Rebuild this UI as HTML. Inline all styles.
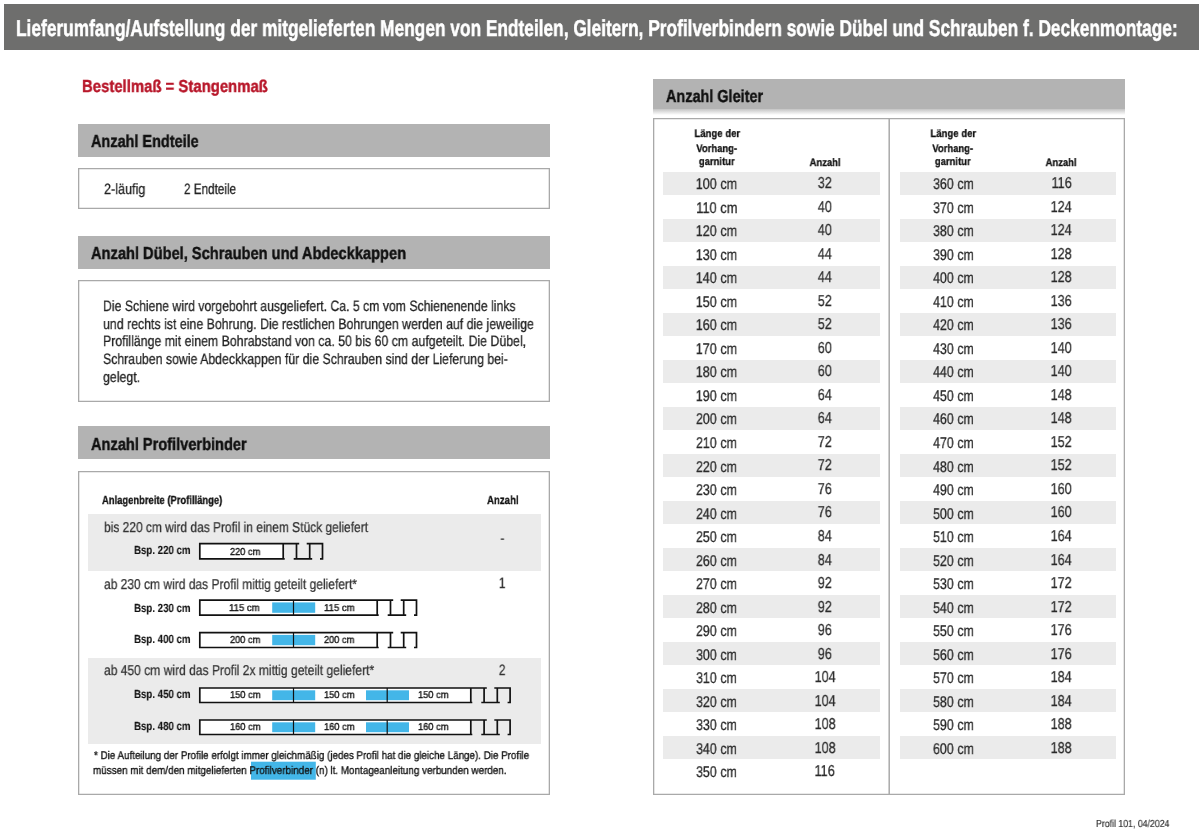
<!DOCTYPE html>
<html><head><meta charset="utf-8"><style>
html,body{margin:0;padding:0;background:#fff;width:1200px;height:833px;overflow:hidden}
body{position:relative;font-family:"Liberation Sans",sans-serif}
.r{position:absolute;box-sizing:border-box}
.s{position:absolute;left:0;top:0}
.t{position:absolute;white-space:nowrap;transform-origin:0 0;text-rendering:geometricPrecision;will-change:transform}
</style></head><body>
<div class=r style="left:4px;top:4px;width:1195px;height:46px;background:#6e6e6d;"></div><div class=r style="left:78px;top:124px;width:472px;height:32.5px;background:#b3b3b3;"></div><div class=r style="left:78px;top:167.5px;width:472px;height:41.0px;box-shadow:inset 0 0 0 1.3px #a9a9a9;"></div><div class=r style="left:78px;top:236px;width:472px;height:32.60000000000002px;background:#b3b3b3;"></div><div class=r style="left:78px;top:280px;width:472px;height:122px;box-shadow:inset 0 0 0 1.3px #a9a9a9;"></div><div class=r style="left:78px;top:426.3px;width:472px;height:33.0px;background:#b3b3b3;"></div><div class=r style="left:78px;top:470.6px;width:472px;height:324.4px;box-shadow:inset 0 0 0 1.3px #a9a9a9;"></div><div class=r style="left:88px;top:514.3px;width:452.70000000000005px;height:56.700000000000045px;background:#ebebeb;"></div><div class=r style="left:88px;top:658.2px;width:452.70000000000005px;height:85.39999999999998px;background:#ebebeb;"></div><div class=r style="left:653.3px;top:78.6px;width:471.70000000000005px;height:30.200000000000003px;background:#b3b3b3;"></div><div class=r style="left:653.3px;top:108.8px;width:471.70000000000005px;height:6.700000000000003px;background:linear-gradient(#c4c4c4,#ffffff)"></div><div class=r style="left:653.3px;top:118.3px;width:471.5px;height:676.5px;box-shadow:inset 0 0 0 1.3px #a9a9a9;"></div><div class=r style="left:662.5px;top:171.9px;width:217.5px;height:23.0px;background:#ebebeb;"></div><div class=r style="left:662.5px;top:218.94px;width:217.5px;height:23.0px;background:#ebebeb;"></div><div class=r style="left:662.5px;top:265.98px;width:217.5px;height:23.0px;background:#ebebeb;"></div><div class=r style="left:662.5px;top:313.02px;width:217.5px;height:23.0px;background:#ebebeb;"></div><div class=r style="left:662.5px;top:360.06px;width:217.5px;height:23.0px;background:#ebebeb;"></div><div class=r style="left:662.5px;top:407.1px;width:217.5px;height:23.0px;background:#ebebeb;"></div><div class=r style="left:662.5px;top:454.14px;width:217.5px;height:23.0px;background:#ebebeb;"></div><div class=r style="left:662.5px;top:501.17999999999995px;width:217.5px;height:23.0px;background:#ebebeb;"></div><div class=r style="left:662.5px;top:548.22px;width:217.5px;height:23.0px;background:#ebebeb;"></div><div class=r style="left:662.5px;top:595.26px;width:217.5px;height:23.0px;background:#ebebeb;"></div><div class=r style="left:662.5px;top:642.3px;width:217.5px;height:23.0px;background:#ebebeb;"></div><div class=r style="left:662.5px;top:689.3399999999999px;width:217.5px;height:23.0px;background:#ebebeb;"></div><div class=r style="left:662.5px;top:736.38px;width:217.5px;height:23.0px;background:#ebebeb;"></div><div class=r style="left:899.5px;top:171.9px;width:216.20000000000005px;height:23.0px;background:#ebebeb;"></div><div class=r style="left:899.5px;top:218.94px;width:216.20000000000005px;height:23.0px;background:#ebebeb;"></div><div class=r style="left:899.5px;top:265.98px;width:216.20000000000005px;height:23.0px;background:#ebebeb;"></div><div class=r style="left:899.5px;top:313.02px;width:216.20000000000005px;height:23.0px;background:#ebebeb;"></div><div class=r style="left:899.5px;top:360.06px;width:216.20000000000005px;height:23.0px;background:#ebebeb;"></div><div class=r style="left:899.5px;top:407.1px;width:216.20000000000005px;height:23.0px;background:#ebebeb;"></div><div class=r style="left:899.5px;top:454.14px;width:216.20000000000005px;height:23.0px;background:#ebebeb;"></div><div class=r style="left:899.5px;top:501.17999999999995px;width:216.20000000000005px;height:23.0px;background:#ebebeb;"></div><div class=r style="left:899.5px;top:548.22px;width:216.20000000000005px;height:23.0px;background:#ebebeb;"></div><div class=r style="left:899.5px;top:595.26px;width:216.20000000000005px;height:23.0px;background:#ebebeb;"></div><div class=r style="left:899.5px;top:642.3px;width:216.20000000000005px;height:23.0px;background:#ebebeb;"></div><div class=r style="left:899.5px;top:689.3399999999999px;width:216.20000000000005px;height:23.0px;background:#ebebeb;"></div><div class=r style="left:899.5px;top:736.38px;width:216.20000000000005px;height:23.0px;background:#ebebeb;"></div>
<svg class=s width='1200' height='833' viewBox='0 0 1200 833'><rect x='199.8' y='543.6' width='83.39999999999998' height='15.199999999999932' fill='#fff' stroke='none'/><path d='M299.2 543.6 H199.8 V558.8 H284.7 M283.2 543.6 V558.8' fill='none' stroke='#111' stroke-width='1.7'/><path d='M296.5 543.6 V558.8 M293.7 558.8 H312.2 M309.7 558.8 V543.6 M306.7 543.6 H322.5 V558.8 H320.0' fill='none' stroke='#111' stroke-width='1.7'/><rect x='199.8' y='600.1' width='177.39999999999998' height='15.0' fill='#fff' stroke='none'/><rect x='272.2' y='602.4' width='43.0' height='10.4' fill='#43b6e8'/><line x1='293.5' y1='600.1' x2='293.5' y2='615.1' stroke='#111' stroke-width='1.2'/><path d='M393.2 600.1 H199.8 V615.1 H378.7 M377.2 600.1 V615.1' fill='none' stroke='#111' stroke-width='1.7'/><path d='M390.5 600.1 V615.1 M387.7 615.1 H406.2 M403.7 615.1 V600.1 M400.7 600.1 H416.5 V615.1 H414.0' fill='none' stroke='#111' stroke-width='1.7'/><rect x='199.8' y='632.6' width='177.39999999999998' height='14.899999999999977' fill='#fff' stroke='none'/><rect x='272.2' y='634.9' width='43.0' height='10.299999999999978' fill='#43b6e8'/><line x1='293.5' y1='632.6' x2='293.5' y2='647.5' stroke='#111' stroke-width='1.2'/><path d='M393.2 632.6 H199.8 V647.5 H378.7 M377.2 632.6 V647.5' fill='none' stroke='#111' stroke-width='1.7'/><path d='M390.5 632.6 V647.5 M387.7 647.5 H406.2 M403.7 647.5 V632.6 M400.7 632.6 H416.5 V647.5 H414.0' fill='none' stroke='#111' stroke-width='1.7'/><rect x='199.8' y='688.0' width='271.0' height='14.5' fill='#fff' stroke='none'/><rect x='272.2' y='690.3' width='43.0' height='9.9' fill='#43b6e8'/><line x1='293.5' y1='688.0' x2='293.5' y2='702.5' stroke='#111' stroke-width='1.2'/><rect x='366' y='690.3' width='43' height='9.9' fill='#43b6e8'/><line x1='387.2' y1='688.0' x2='387.2' y2='702.5' stroke='#111' stroke-width='1.2'/><path d='M486.8 688.0 H199.8 V702.5 H472.3 M470.8 688.0 V702.5' fill='none' stroke='#111' stroke-width='1.7'/><path d='M484.1 688.0 V702.5 M481.3 702.5 H499.8 M497.3 702.5 V688.0 M494.3 688.0 H510.1 V702.5 H507.6' fill='none' stroke='#111' stroke-width='1.7'/><rect x='199.8' y='720.0' width='271.0' height='14.5' fill='#fff' stroke='none'/><rect x='272.2' y='722.3' width='43.0' height='9.9' fill='#43b6e8'/><line x1='293.5' y1='720.0' x2='293.5' y2='734.5' stroke='#111' stroke-width='1.2'/><rect x='366' y='722.3' width='43' height='9.9' fill='#43b6e8'/><line x1='387.2' y1='720.0' x2='387.2' y2='734.5' stroke='#111' stroke-width='1.2'/><path d='M486.8 720.0 H199.8 V734.5 H472.3 M470.8 720.0 V734.5' fill='none' stroke='#111' stroke-width='1.7'/><path d='M484.1 720.0 V734.5 M481.3 734.5 H499.8 M497.3 734.5 V720.0 M494.3 720.0 H510.1 V734.5 H507.6' fill='none' stroke='#111' stroke-width='1.7'/><rect x='251' y='761.7' width='64.8' height='18' fill='#43b6e8'/><line x1='889.2' y1='118.5' x2='889.2' y2='794' stroke='#a9a9a9' stroke-width='1.5'/></svg>
<div class=t style="left:16.34px;top:17px;font-size:23px;line-height:23px;font-weight:700;color:#ffffff;-webkit-text-stroke:0.55px #ffffff;transform:scaleX(0.7519)">Lieferumfang/Aufstellung der mitgelieferten Mengen von Endteilen, Gleitern, Profilverbindern sowie Dübel und Schrauben f. Deckenmontage:</div><div class=t style="left:81.60px;top:78px;font-size:17.4px;line-height:17.4px;font-weight:700;color:#b8172a;-webkit-text-stroke:0.435px #b8172a;transform:scaleX(0.8564)">Bestellmaß = Stangenmaß</div><div class=t style="left:90.84px;top:133px;font-size:17.4px;line-height:17.4px;font-weight:700;color:#111;-webkit-text-stroke:0.435px #111;transform:scaleX(0.8314)">Anzahl Endteile</div><div class=t style="left:103.96px;top:182px;font-size:15px;line-height:15px;color:#222;-webkit-text-stroke:0.27px #222;transform:scaleX(0.8424)">2-läufig</div><div class=t style="left:183.71px;top:182px;font-size:15px;line-height:15px;color:#222;-webkit-text-stroke:0.27px #222;transform:scaleX(0.7810)">2 Endteile</div><div class=t style="left:90.84px;top:245px;font-size:17.4px;line-height:17.4px;font-weight:700;color:#111;-webkit-text-stroke:0.435px #111;transform:scaleX(0.8418)">Anzahl Dübel, Schrauben und Abdeckkappen</div><div class=t style="left:102.80px;top:299px;font-size:15px;line-height:15px;color:#222;-webkit-text-stroke:0.27px #222;transform:scaleX(0.8165)">Die Schiene wird vorgebohrt ausgeliefert. Ca. 5 cm vom Schienenende links</div><div class=t style="left:103.00px;top:317px;font-size:15px;line-height:15px;color:#222;-webkit-text-stroke:0.27px #222;transform:scaleX(0.8228)">und rechts ist eine Bohrung. Die restlichen Bohrungen werden auf die jeweilige</div><div class=t style="left:102.79px;top:334px;font-size:15px;line-height:15px;color:#222;-webkit-text-stroke:0.27px #222;transform:scaleX(0.8225)">Profillänge mit einem Bohrabstand von ca. 50 bis 60 cm aufgeteilt. Die Dübel,</div><div class=t style="left:103.24px;top:352px;font-size:15px;line-height:15px;color:#222;-webkit-text-stroke:0.27px #222;transform:scaleX(0.8200)">Schrauben sowie Abdeckkappen für die Schrauben sind der Lieferung bei-</div><div class=t style="left:103.28px;top:370px;font-size:15px;line-height:15px;color:#222;-webkit-text-stroke:0.27px #222;transform:scaleX(0.8247)">gelegt.</div><div class=t style="left:90.84px;top:436px;font-size:17.4px;line-height:17.4px;font-weight:700;color:#111;-webkit-text-stroke:0.435px #111;transform:scaleX(0.8391)">Anzahl Profilverbinder</div><div class=t style="left:102.17px;top:495px;font-size:11.8px;line-height:11.8px;font-weight:700;color:#111;-webkit-text-stroke:0.295px #111;transform:scaleX(0.7979)">Anlagenbreite (Profillänge)</div><div class=t style="left:487.06px;top:495px;font-size:11.8px;line-height:11.8px;font-weight:700;color:#111;-webkit-text-stroke:0.295px #111;transform:scaleX(0.8177)">Anzahl</div><div class=t style="left:103.93px;top:521px;font-size:14.3px;line-height:14.3px;color:#333;-webkit-text-stroke:0.257px #333;transform:scaleX(0.8370)">bis 220 cm wird das Profil in einem Stück geliefert</div><div class=t style="left:104.19px;top:578px;font-size:14.3px;line-height:14.3px;color:#333;-webkit-text-stroke:0.257px #333;transform:scaleX(0.8400)">ab 230 cm wird das Profil mittig geteilt geliefert*</div><div class=t style="left:104.29px;top:664px;font-size:14.3px;line-height:14.3px;color:#333;-webkit-text-stroke:0.257px #333;transform:scaleX(0.8434)">ab 450 cm wird das Profil 2x mittig geteilt geliefert*</div><div class=t style="left:499.62px;top:532px;font-size:14.3px;line-height:14.3px;color:#333;-webkit-text-stroke:0.257px #333;transform-origin:50% 0;transform:scaleX(0.8000)">-</div><div class=t style="left:497.83px;top:576px;font-size:15px;line-height:15px;color:#333;-webkit-text-stroke:0.27px #333;transform-origin:50% 0;transform:scaleX(0.8000)">1</div><div class=t style="left:497.83px;top:663px;font-size:15px;line-height:15px;color:#333;-webkit-text-stroke:0.27px #333;transform-origin:50% 0;transform:scaleX(0.8000)">2</div><div class=t style="left:133.75px;top:545px;font-size:11.8px;line-height:11.8px;font-weight:700;color:#111;-webkit-text-stroke:0.1px #111;transform:scaleX(0.8212)">Bsp. 220 cm</div><div class=t style="left:133.75px;top:603px;font-size:11.8px;line-height:11.8px;font-weight:700;color:#111;-webkit-text-stroke:0.1px #111;transform:scaleX(0.8212)">Bsp. 230 cm</div><div class=t style="left:133.75px;top:634px;font-size:11.8px;line-height:11.8px;font-weight:700;color:#111;-webkit-text-stroke:0.1px #111;transform:scaleX(0.8212)">Bsp. 400 cm</div><div class=t style="left:133.75px;top:689px;font-size:11.8px;line-height:11.8px;font-weight:700;color:#111;-webkit-text-stroke:0.1px #111;transform:scaleX(0.8212)">Bsp. 450 cm</div><div class=t style="left:133.75px;top:721px;font-size:11.8px;line-height:11.8px;font-weight:700;color:#111;-webkit-text-stroke:0.1px #111;transform:scaleX(0.8212)">Bsp. 480 cm</div><div class=t style="left:230.14px;top:548px;font-size:10px;line-height:10px;color:#111;-webkit-text-stroke:0.35px #111;transform:scaleX(0.9230)">220 cm</div><div class=t style="left:229.47px;top:604px;font-size:10px;line-height:10px;color:#111;-webkit-text-stroke:0.35px #111;transform:scaleX(0.9530)">115 cm</div><div class=t style="left:323.77px;top:604px;font-size:10px;line-height:10px;color:#111;-webkit-text-stroke:0.35px #111;transform:scaleX(0.9530)">115 cm</div><div class=t style="left:229.74px;top:636px;font-size:10px;line-height:10px;color:#111;-webkit-text-stroke:0.35px #111;transform:scaleX(0.9230)">200 cm</div><div class=t style="left:324.04px;top:636px;font-size:10px;line-height:10px;color:#111;-webkit-text-stroke:0.35px #111;transform:scaleX(0.9230)">200 cm</div><div class=t style="left:230.49px;top:691px;font-size:10px;line-height:10px;color:#111;-webkit-text-stroke:0.35px #111;transform:scaleX(0.9306)">150 cm</div><div class=t style="left:323.59px;top:691px;font-size:10px;line-height:10px;color:#111;-webkit-text-stroke:0.35px #111;transform:scaleX(0.9306)">150 cm</div><div class=t style="left:418.09px;top:691px;font-size:10px;line-height:10px;color:#111;-webkit-text-stroke:0.35px #111;transform:scaleX(0.9306)">150 cm</div><div class=t style="left:230.49px;top:723px;font-size:10px;line-height:10px;color:#111;-webkit-text-stroke:0.35px #111;transform:scaleX(0.9306)">160 cm</div><div class=t style="left:323.59px;top:723px;font-size:10px;line-height:10px;color:#111;-webkit-text-stroke:0.35px #111;transform:scaleX(0.9306)">160 cm</div><div class=t style="left:418.09px;top:723px;font-size:10px;line-height:10px;color:#111;-webkit-text-stroke:0.35px #111;transform:scaleX(0.9306)">160 cm</div><div class=t style="left:93.84px;top:751px;font-size:11.2px;line-height:11.2px;color:#111;-webkit-text-stroke:0.32px #111;transform:scaleX(0.8777)">* Die Aufteilung der Profile erfolgt immer gleichmäßig (jedes Profil hat die gleiche Länge). Die Profile</div><div class=t style="left:93.34px;top:766px;font-size:11.2px;line-height:11.2px;color:#111;-webkit-text-stroke:0.32px #111;transform:scaleX(0.8820)">müssen mit dem/den mitgelieferten Profilverbinder (n) lt. Montageanleitung verbunden werden.</div><div class=t style="left:665.64px;top:88px;font-size:17.4px;line-height:17.4px;font-weight:700;color:#111;-webkit-text-stroke:0.435px #111;transform:scaleX(0.8302)">Anzahl Gleiter</div><div class=t style="left:690.71px;top:129px;font-size:11px;line-height:11px;font-weight:700;color:#111;-webkit-text-stroke:0.275px #111;transform-origin:50% 0;transform:scaleX(0.8689)">Länge der</div><div class=t style="left:693.27px;top:144px;font-size:11px;line-height:11px;font-weight:700;color:#111;-webkit-text-stroke:0.275px #111;transform-origin:50% 0;transform:scaleX(0.8604)">Vorhang-</div><div class=t style="left:696.22px;top:157px;font-size:11px;line-height:11px;font-weight:700;color:#111;-webkit-text-stroke:0.275px #111;transform-origin:50% 0;transform:scaleX(0.8621)">garnitur</div><div class=t style="left:806.97px;top:158px;font-size:11px;line-height:11px;font-weight:700;color:#111;-webkit-text-stroke:0.275px #111;transform-origin:50% 0;transform:scaleX(0.8569)">Anzahl</div><div class=t style="left:926.71px;top:129px;font-size:11px;line-height:11px;font-weight:700;color:#111;-webkit-text-stroke:0.275px #111;transform-origin:50% 0;transform:scaleX(0.8689)">Länge der</div><div class=t style="left:929.27px;top:144px;font-size:11px;line-height:11px;font-weight:700;color:#111;-webkit-text-stroke:0.275px #111;transform-origin:50% 0;transform:scaleX(0.8604)">Vorhang-</div><div class=t style="left:932.22px;top:157px;font-size:11px;line-height:11px;font-weight:700;color:#111;-webkit-text-stroke:0.275px #111;transform-origin:50% 0;transform:scaleX(0.8621)">garnitur</div><div class=t style="left:1043.47px;top:158px;font-size:11px;line-height:11px;font-weight:700;color:#111;-webkit-text-stroke:0.275px #111;transform-origin:50% 0;transform:scaleX(0.8569)">Anzahl</div><div class=t style="left:690.98px;top:177px;font-size:15.5px;line-height:15.5px;color:#2a2a2a;-webkit-text-stroke:0.279px #2a2a2a;transform-origin:50% 0;transform:scaleX(0.8121)">100 cm</div><div class=t style="left:816.21px;top:176px;font-size:15.8px;line-height:15.8px;color:#2a2a2a;-webkit-text-stroke:0.284px #2a2a2a;transform-origin:50% 0;transform:scaleX(0.8000)">32</div><div class=t style="left:691.56px;top:201px;font-size:15.5px;line-height:15.5px;color:#2a2a2a;-webkit-text-stroke:0.279px #2a2a2a;transform-origin:50% 0;transform:scaleX(0.8318)">110 cm</div><div class=t style="left:816.21px;top:200px;font-size:15.8px;line-height:15.8px;color:#2a2a2a;-webkit-text-stroke:0.284px #2a2a2a;transform-origin:50% 0;transform:scaleX(0.8000)">40</div><div class=t style="left:690.98px;top:224px;font-size:15.5px;line-height:15.5px;color:#2a2a2a;-webkit-text-stroke:0.279px #2a2a2a;transform-origin:50% 0;transform:scaleX(0.8121)">120 cm</div><div class=t style="left:816.21px;top:223px;font-size:15.8px;line-height:15.8px;color:#2a2a2a;-webkit-text-stroke:0.284px #2a2a2a;transform-origin:50% 0;transform:scaleX(0.8000)">40</div><div class=t style="left:690.98px;top:248px;font-size:15.5px;line-height:15.5px;color:#2a2a2a;-webkit-text-stroke:0.279px #2a2a2a;transform-origin:50% 0;transform:scaleX(0.8121)">130 cm</div><div class=t style="left:816.21px;top:247px;font-size:15.8px;line-height:15.8px;color:#2a2a2a;-webkit-text-stroke:0.284px #2a2a2a;transform-origin:50% 0;transform:scaleX(0.8000)">44</div><div class=t style="left:690.98px;top:271px;font-size:15.5px;line-height:15.5px;color:#2a2a2a;-webkit-text-stroke:0.279px #2a2a2a;transform-origin:50% 0;transform:scaleX(0.8121)">140 cm</div><div class=t style="left:816.21px;top:270px;font-size:15.8px;line-height:15.8px;color:#2a2a2a;-webkit-text-stroke:0.284px #2a2a2a;transform-origin:50% 0;transform:scaleX(0.8000)">44</div><div class=t style="left:690.98px;top:295px;font-size:15.5px;line-height:15.5px;color:#2a2a2a;-webkit-text-stroke:0.279px #2a2a2a;transform-origin:50% 0;transform:scaleX(0.8121)">150 cm</div><div class=t style="left:816.21px;top:294px;font-size:15.8px;line-height:15.8px;color:#2a2a2a;-webkit-text-stroke:0.284px #2a2a2a;transform-origin:50% 0;transform:scaleX(0.8000)">52</div><div class=t style="left:690.98px;top:318px;font-size:15.5px;line-height:15.5px;color:#2a2a2a;-webkit-text-stroke:0.279px #2a2a2a;transform-origin:50% 0;transform:scaleX(0.8121)">160 cm</div><div class=t style="left:816.21px;top:317px;font-size:15.8px;line-height:15.8px;color:#2a2a2a;-webkit-text-stroke:0.284px #2a2a2a;transform-origin:50% 0;transform:scaleX(0.8000)">52</div><div class=t style="left:690.98px;top:342px;font-size:15.5px;line-height:15.5px;color:#2a2a2a;-webkit-text-stroke:0.279px #2a2a2a;transform-origin:50% 0;transform:scaleX(0.8121)">170 cm</div><div class=t style="left:816.21px;top:341px;font-size:15.8px;line-height:15.8px;color:#2a2a2a;-webkit-text-stroke:0.284px #2a2a2a;transform-origin:50% 0;transform:scaleX(0.8000)">60</div><div class=t style="left:690.98px;top:365px;font-size:15.5px;line-height:15.5px;color:#2a2a2a;-webkit-text-stroke:0.279px #2a2a2a;transform-origin:50% 0;transform:scaleX(0.8121)">180 cm</div><div class=t style="left:816.21px;top:364px;font-size:15.8px;line-height:15.8px;color:#2a2a2a;-webkit-text-stroke:0.284px #2a2a2a;transform-origin:50% 0;transform:scaleX(0.8000)">60</div><div class=t style="left:690.98px;top:389px;font-size:15.5px;line-height:15.5px;color:#2a2a2a;-webkit-text-stroke:0.279px #2a2a2a;transform-origin:50% 0;transform:scaleX(0.8121)">190 cm</div><div class=t style="left:816.21px;top:388px;font-size:15.8px;line-height:15.8px;color:#2a2a2a;-webkit-text-stroke:0.284px #2a2a2a;transform-origin:50% 0;transform:scaleX(0.8000)">64</div><div class=t style="left:690.98px;top:412px;font-size:15.5px;line-height:15.5px;color:#2a2a2a;-webkit-text-stroke:0.279px #2a2a2a;transform-origin:50% 0;transform:scaleX(0.8054)">200 cm</div><div class=t style="left:816.21px;top:411px;font-size:15.8px;line-height:15.8px;color:#2a2a2a;-webkit-text-stroke:0.284px #2a2a2a;transform-origin:50% 0;transform:scaleX(0.8000)">64</div><div class=t style="left:690.98px;top:436px;font-size:15.5px;line-height:15.5px;color:#2a2a2a;-webkit-text-stroke:0.279px #2a2a2a;transform-origin:50% 0;transform:scaleX(0.8054)">210 cm</div><div class=t style="left:816.21px;top:435px;font-size:15.8px;line-height:15.8px;color:#2a2a2a;-webkit-text-stroke:0.284px #2a2a2a;transform-origin:50% 0;transform:scaleX(0.8000)">72</div><div class=t style="left:690.98px;top:460px;font-size:15.5px;line-height:15.5px;color:#2a2a2a;-webkit-text-stroke:0.279px #2a2a2a;transform-origin:50% 0;transform:scaleX(0.8054)">220 cm</div><div class=t style="left:816.21px;top:458px;font-size:15.8px;line-height:15.8px;color:#2a2a2a;-webkit-text-stroke:0.284px #2a2a2a;transform-origin:50% 0;transform:scaleX(0.8000)">72</div><div class=t style="left:690.98px;top:483px;font-size:15.5px;line-height:15.5px;color:#2a2a2a;-webkit-text-stroke:0.279px #2a2a2a;transform-origin:50% 0;transform:scaleX(0.8054)">230 cm</div><div class=t style="left:816.21px;top:482px;font-size:15.8px;line-height:15.8px;color:#2a2a2a;-webkit-text-stroke:0.284px #2a2a2a;transform-origin:50% 0;transform:scaleX(0.8000)">76</div><div class=t style="left:690.98px;top:507px;font-size:15.5px;line-height:15.5px;color:#2a2a2a;-webkit-text-stroke:0.279px #2a2a2a;transform-origin:50% 0;transform:scaleX(0.8054)">240 cm</div><div class=t style="left:816.21px;top:505px;font-size:15.8px;line-height:15.8px;color:#2a2a2a;-webkit-text-stroke:0.284px #2a2a2a;transform-origin:50% 0;transform:scaleX(0.8000)">76</div><div class=t style="left:690.98px;top:530px;font-size:15.5px;line-height:15.5px;color:#2a2a2a;-webkit-text-stroke:0.279px #2a2a2a;transform-origin:50% 0;transform:scaleX(0.8054)">250 cm</div><div class=t style="left:816.21px;top:529px;font-size:15.8px;line-height:15.8px;color:#2a2a2a;-webkit-text-stroke:0.284px #2a2a2a;transform-origin:50% 0;transform:scaleX(0.8000)">84</div><div class=t style="left:690.98px;top:554px;font-size:15.5px;line-height:15.5px;color:#2a2a2a;-webkit-text-stroke:0.279px #2a2a2a;transform-origin:50% 0;transform:scaleX(0.8054)">260 cm</div><div class=t style="left:816.21px;top:553px;font-size:15.8px;line-height:15.8px;color:#2a2a2a;-webkit-text-stroke:0.284px #2a2a2a;transform-origin:50% 0;transform:scaleX(0.8000)">84</div><div class=t style="left:690.98px;top:577px;font-size:15.5px;line-height:15.5px;color:#2a2a2a;-webkit-text-stroke:0.279px #2a2a2a;transform-origin:50% 0;transform:scaleX(0.8054)">270 cm</div><div class=t style="left:816.21px;top:576px;font-size:15.8px;line-height:15.8px;color:#2a2a2a;-webkit-text-stroke:0.284px #2a2a2a;transform-origin:50% 0;transform:scaleX(0.8000)">92</div><div class=t style="left:690.98px;top:601px;font-size:15.5px;line-height:15.5px;color:#2a2a2a;-webkit-text-stroke:0.279px #2a2a2a;transform-origin:50% 0;transform:scaleX(0.8054)">280 cm</div><div class=t style="left:816.21px;top:600px;font-size:15.8px;line-height:15.8px;color:#2a2a2a;-webkit-text-stroke:0.284px #2a2a2a;transform-origin:50% 0;transform:scaleX(0.8000)">92</div><div class=t style="left:690.98px;top:624px;font-size:15.5px;line-height:15.5px;color:#2a2a2a;-webkit-text-stroke:0.279px #2a2a2a;transform-origin:50% 0;transform:scaleX(0.8054)">290 cm</div><div class=t style="left:816.21px;top:623px;font-size:15.8px;line-height:15.8px;color:#2a2a2a;-webkit-text-stroke:0.284px #2a2a2a;transform-origin:50% 0;transform:scaleX(0.8000)">96</div><div class=t style="left:690.98px;top:648px;font-size:15.5px;line-height:15.5px;color:#2a2a2a;-webkit-text-stroke:0.279px #2a2a2a;transform-origin:50% 0;transform:scaleX(0.8023)">300 cm</div><div class=t style="left:816.21px;top:647px;font-size:15.8px;line-height:15.8px;color:#2a2a2a;-webkit-text-stroke:0.284px #2a2a2a;transform-origin:50% 0;transform:scaleX(0.8000)">96</div><div class=t style="left:690.98px;top:671px;font-size:15.5px;line-height:15.5px;color:#2a2a2a;-webkit-text-stroke:0.279px #2a2a2a;transform-origin:50% 0;transform:scaleX(0.8023)">310 cm</div><div class=t style="left:811.82px;top:670px;font-size:15.8px;line-height:15.8px;color:#2a2a2a;-webkit-text-stroke:0.284px #2a2a2a;transform-origin:50% 0;transform:scaleX(0.8000)">104</div><div class=t style="left:690.98px;top:695px;font-size:15.5px;line-height:15.5px;color:#2a2a2a;-webkit-text-stroke:0.279px #2a2a2a;transform-origin:50% 0;transform:scaleX(0.8023)">320 cm</div><div class=t style="left:811.82px;top:694px;font-size:15.8px;line-height:15.8px;color:#2a2a2a;-webkit-text-stroke:0.284px #2a2a2a;transform-origin:50% 0;transform:scaleX(0.8000)">104</div><div class=t style="left:690.98px;top:718px;font-size:15.5px;line-height:15.5px;color:#2a2a2a;-webkit-text-stroke:0.279px #2a2a2a;transform-origin:50% 0;transform:scaleX(0.8023)">330 cm</div><div class=t style="left:811.82px;top:717px;font-size:15.8px;line-height:15.8px;color:#2a2a2a;-webkit-text-stroke:0.284px #2a2a2a;transform-origin:50% 0;transform:scaleX(0.8000)">108</div><div class=t style="left:690.98px;top:742px;font-size:15.5px;line-height:15.5px;color:#2a2a2a;-webkit-text-stroke:0.279px #2a2a2a;transform-origin:50% 0;transform:scaleX(0.8023)">340 cm</div><div class=t style="left:811.82px;top:741px;font-size:15.8px;line-height:15.8px;color:#2a2a2a;-webkit-text-stroke:0.284px #2a2a2a;transform-origin:50% 0;transform:scaleX(0.8000)">108</div><div class=t style="left:690.98px;top:765px;font-size:15.5px;line-height:15.5px;color:#2a2a2a;-webkit-text-stroke:0.279px #2a2a2a;transform-origin:50% 0;transform:scaleX(0.8023)">350 cm</div><div class=t style="left:812.41px;top:764px;font-size:15.8px;line-height:15.8px;color:#2a2a2a;-webkit-text-stroke:0.284px #2a2a2a;transform-origin:50% 0;transform:scaleX(0.8000)">116</div><div class=t style="left:927.58px;top:177px;font-size:15.5px;line-height:15.5px;color:#2a2a2a;-webkit-text-stroke:0.279px #2a2a2a;transform-origin:50% 0;transform:scaleX(0.8023)">360 cm</div><div class=t style="left:1048.91px;top:176px;font-size:15.8px;line-height:15.8px;color:#2a2a2a;-webkit-text-stroke:0.284px #2a2a2a;transform-origin:50% 0;transform:scaleX(0.8000)">116</div><div class=t style="left:927.58px;top:201px;font-size:15.5px;line-height:15.5px;color:#2a2a2a;-webkit-text-stroke:0.279px #2a2a2a;transform-origin:50% 0;transform:scaleX(0.8023)">370 cm</div><div class=t style="left:1048.32px;top:200px;font-size:15.8px;line-height:15.8px;color:#2a2a2a;-webkit-text-stroke:0.284px #2a2a2a;transform-origin:50% 0;transform:scaleX(0.8000)">124</div><div class=t style="left:927.58px;top:224px;font-size:15.5px;line-height:15.5px;color:#2a2a2a;-webkit-text-stroke:0.279px #2a2a2a;transform-origin:50% 0;transform:scaleX(0.8023)">380 cm</div><div class=t style="left:1048.32px;top:223px;font-size:15.8px;line-height:15.8px;color:#2a2a2a;-webkit-text-stroke:0.284px #2a2a2a;transform-origin:50% 0;transform:scaleX(0.8000)">124</div><div class=t style="left:927.58px;top:248px;font-size:15.5px;line-height:15.5px;color:#2a2a2a;-webkit-text-stroke:0.279px #2a2a2a;transform-origin:50% 0;transform:scaleX(0.8023)">390 cm</div><div class=t style="left:1048.32px;top:247px;font-size:15.8px;line-height:15.8px;color:#2a2a2a;-webkit-text-stroke:0.284px #2a2a2a;transform-origin:50% 0;transform:scaleX(0.8000)">128</div><div class=t style="left:927.58px;top:271px;font-size:15.5px;line-height:15.5px;color:#2a2a2a;-webkit-text-stroke:0.279px #2a2a2a;transform-origin:50% 0;transform:scaleX(0.7985)">400 cm</div><div class=t style="left:1048.32px;top:270px;font-size:15.8px;line-height:15.8px;color:#2a2a2a;-webkit-text-stroke:0.284px #2a2a2a;transform-origin:50% 0;transform:scaleX(0.8000)">128</div><div class=t style="left:927.58px;top:295px;font-size:15.5px;line-height:15.5px;color:#2a2a2a;-webkit-text-stroke:0.279px #2a2a2a;transform-origin:50% 0;transform:scaleX(0.7985)">410 cm</div><div class=t style="left:1048.32px;top:294px;font-size:15.8px;line-height:15.8px;color:#2a2a2a;-webkit-text-stroke:0.284px #2a2a2a;transform-origin:50% 0;transform:scaleX(0.8000)">136</div><div class=t style="left:927.58px;top:318px;font-size:15.5px;line-height:15.5px;color:#2a2a2a;-webkit-text-stroke:0.279px #2a2a2a;transform-origin:50% 0;transform:scaleX(0.7985)">420 cm</div><div class=t style="left:1048.32px;top:317px;font-size:15.8px;line-height:15.8px;color:#2a2a2a;-webkit-text-stroke:0.284px #2a2a2a;transform-origin:50% 0;transform:scaleX(0.8000)">136</div><div class=t style="left:927.58px;top:342px;font-size:15.5px;line-height:15.5px;color:#2a2a2a;-webkit-text-stroke:0.279px #2a2a2a;transform-origin:50% 0;transform:scaleX(0.7985)">430 cm</div><div class=t style="left:1048.32px;top:341px;font-size:15.8px;line-height:15.8px;color:#2a2a2a;-webkit-text-stroke:0.284px #2a2a2a;transform-origin:50% 0;transform:scaleX(0.8000)">140</div><div class=t style="left:927.58px;top:365px;font-size:15.5px;line-height:15.5px;color:#2a2a2a;-webkit-text-stroke:0.279px #2a2a2a;transform-origin:50% 0;transform:scaleX(0.7985)">440 cm</div><div class=t style="left:1048.32px;top:364px;font-size:15.8px;line-height:15.8px;color:#2a2a2a;-webkit-text-stroke:0.284px #2a2a2a;transform-origin:50% 0;transform:scaleX(0.8000)">140</div><div class=t style="left:927.58px;top:389px;font-size:15.5px;line-height:15.5px;color:#2a2a2a;-webkit-text-stroke:0.279px #2a2a2a;transform-origin:50% 0;transform:scaleX(0.7985)">450 cm</div><div class=t style="left:1048.32px;top:388px;font-size:15.8px;line-height:15.8px;color:#2a2a2a;-webkit-text-stroke:0.284px #2a2a2a;transform-origin:50% 0;transform:scaleX(0.8000)">148</div><div class=t style="left:927.58px;top:412px;font-size:15.5px;line-height:15.5px;color:#2a2a2a;-webkit-text-stroke:0.279px #2a2a2a;transform-origin:50% 0;transform:scaleX(0.7985)">460 cm</div><div class=t style="left:1048.32px;top:411px;font-size:15.8px;line-height:15.8px;color:#2a2a2a;-webkit-text-stroke:0.284px #2a2a2a;transform-origin:50% 0;transform:scaleX(0.8000)">148</div><div class=t style="left:927.58px;top:436px;font-size:15.5px;line-height:15.5px;color:#2a2a2a;-webkit-text-stroke:0.279px #2a2a2a;transform-origin:50% 0;transform:scaleX(0.7985)">470 cm</div><div class=t style="left:1048.32px;top:435px;font-size:15.8px;line-height:15.8px;color:#2a2a2a;-webkit-text-stroke:0.284px #2a2a2a;transform-origin:50% 0;transform:scaleX(0.8000)">152</div><div class=t style="left:927.58px;top:460px;font-size:15.5px;line-height:15.5px;color:#2a2a2a;-webkit-text-stroke:0.279px #2a2a2a;transform-origin:50% 0;transform:scaleX(0.7985)">480 cm</div><div class=t style="left:1048.32px;top:458px;font-size:15.8px;line-height:15.8px;color:#2a2a2a;-webkit-text-stroke:0.284px #2a2a2a;transform-origin:50% 0;transform:scaleX(0.8000)">152</div><div class=t style="left:927.58px;top:483px;font-size:15.5px;line-height:15.5px;color:#2a2a2a;-webkit-text-stroke:0.279px #2a2a2a;transform-origin:50% 0;transform:scaleX(0.7985)">490 cm</div><div class=t style="left:1048.32px;top:482px;font-size:15.8px;line-height:15.8px;color:#2a2a2a;-webkit-text-stroke:0.284px #2a2a2a;transform-origin:50% 0;transform:scaleX(0.8000)">160</div><div class=t style="left:927.58px;top:507px;font-size:15.5px;line-height:15.5px;color:#2a2a2a;-webkit-text-stroke:0.279px #2a2a2a;transform-origin:50% 0;transform:scaleX(0.8028)">500 cm</div><div class=t style="left:1048.32px;top:505px;font-size:15.8px;line-height:15.8px;color:#2a2a2a;-webkit-text-stroke:0.284px #2a2a2a;transform-origin:50% 0;transform:scaleX(0.8000)">160</div><div class=t style="left:927.58px;top:530px;font-size:15.5px;line-height:15.5px;color:#2a2a2a;-webkit-text-stroke:0.279px #2a2a2a;transform-origin:50% 0;transform:scaleX(0.8028)">510 cm</div><div class=t style="left:1048.32px;top:529px;font-size:15.8px;line-height:15.8px;color:#2a2a2a;-webkit-text-stroke:0.284px #2a2a2a;transform-origin:50% 0;transform:scaleX(0.8000)">164</div><div class=t style="left:927.58px;top:554px;font-size:15.5px;line-height:15.5px;color:#2a2a2a;-webkit-text-stroke:0.279px #2a2a2a;transform-origin:50% 0;transform:scaleX(0.8028)">520 cm</div><div class=t style="left:1048.32px;top:553px;font-size:15.8px;line-height:15.8px;color:#2a2a2a;-webkit-text-stroke:0.284px #2a2a2a;transform-origin:50% 0;transform:scaleX(0.8000)">164</div><div class=t style="left:927.58px;top:577px;font-size:15.5px;line-height:15.5px;color:#2a2a2a;-webkit-text-stroke:0.279px #2a2a2a;transform-origin:50% 0;transform:scaleX(0.8028)">530 cm</div><div class=t style="left:1048.32px;top:576px;font-size:15.8px;line-height:15.8px;color:#2a2a2a;-webkit-text-stroke:0.284px #2a2a2a;transform-origin:50% 0;transform:scaleX(0.8000)">172</div><div class=t style="left:927.58px;top:601px;font-size:15.5px;line-height:15.5px;color:#2a2a2a;-webkit-text-stroke:0.279px #2a2a2a;transform-origin:50% 0;transform:scaleX(0.8028)">540 cm</div><div class=t style="left:1048.32px;top:600px;font-size:15.8px;line-height:15.8px;color:#2a2a2a;-webkit-text-stroke:0.284px #2a2a2a;transform-origin:50% 0;transform:scaleX(0.8000)">172</div><div class=t style="left:927.58px;top:624px;font-size:15.5px;line-height:15.5px;color:#2a2a2a;-webkit-text-stroke:0.279px #2a2a2a;transform-origin:50% 0;transform:scaleX(0.8028)">550 cm</div><div class=t style="left:1048.32px;top:623px;font-size:15.8px;line-height:15.8px;color:#2a2a2a;-webkit-text-stroke:0.284px #2a2a2a;transform-origin:50% 0;transform:scaleX(0.8000)">176</div><div class=t style="left:927.58px;top:648px;font-size:15.5px;line-height:15.5px;color:#2a2a2a;-webkit-text-stroke:0.279px #2a2a2a;transform-origin:50% 0;transform:scaleX(0.8028)">560 cm</div><div class=t style="left:1048.32px;top:647px;font-size:15.8px;line-height:15.8px;color:#2a2a2a;-webkit-text-stroke:0.284px #2a2a2a;transform-origin:50% 0;transform:scaleX(0.8000)">176</div><div class=t style="left:927.58px;top:671px;font-size:15.5px;line-height:15.5px;color:#2a2a2a;-webkit-text-stroke:0.279px #2a2a2a;transform-origin:50% 0;transform:scaleX(0.8028)">570 cm</div><div class=t style="left:1048.32px;top:670px;font-size:15.8px;line-height:15.8px;color:#2a2a2a;-webkit-text-stroke:0.284px #2a2a2a;transform-origin:50% 0;transform:scaleX(0.8000)">184</div><div class=t style="left:927.58px;top:695px;font-size:15.5px;line-height:15.5px;color:#2a2a2a;-webkit-text-stroke:0.279px #2a2a2a;transform-origin:50% 0;transform:scaleX(0.8028)">580 cm</div><div class=t style="left:1048.32px;top:694px;font-size:15.8px;line-height:15.8px;color:#2a2a2a;-webkit-text-stroke:0.284px #2a2a2a;transform-origin:50% 0;transform:scaleX(0.8000)">184</div><div class=t style="left:927.58px;top:718px;font-size:15.5px;line-height:15.5px;color:#2a2a2a;-webkit-text-stroke:0.279px #2a2a2a;transform-origin:50% 0;transform:scaleX(0.8028)">590 cm</div><div class=t style="left:1048.32px;top:717px;font-size:15.8px;line-height:15.8px;color:#2a2a2a;-webkit-text-stroke:0.284px #2a2a2a;transform-origin:50% 0;transform:scaleX(0.8000)">188</div><div class=t style="left:927.58px;top:742px;font-size:15.5px;line-height:15.5px;color:#2a2a2a;-webkit-text-stroke:0.279px #2a2a2a;transform-origin:50% 0;transform:scaleX(0.8055)">600 cm</div><div class=t style="left:1048.32px;top:741px;font-size:15.8px;line-height:15.8px;color:#2a2a2a;-webkit-text-stroke:0.284px #2a2a2a;transform-origin:50% 0;transform:scaleX(0.8000)">188</div><div class=t style="left:1096.28px;top:820px;font-size:10.2px;line-height:10.2px;color:#333;-webkit-text-stroke:0.184px #333;transform:scaleX(0.8590)">Profil 101, 04/2024</div>
</body></html>
